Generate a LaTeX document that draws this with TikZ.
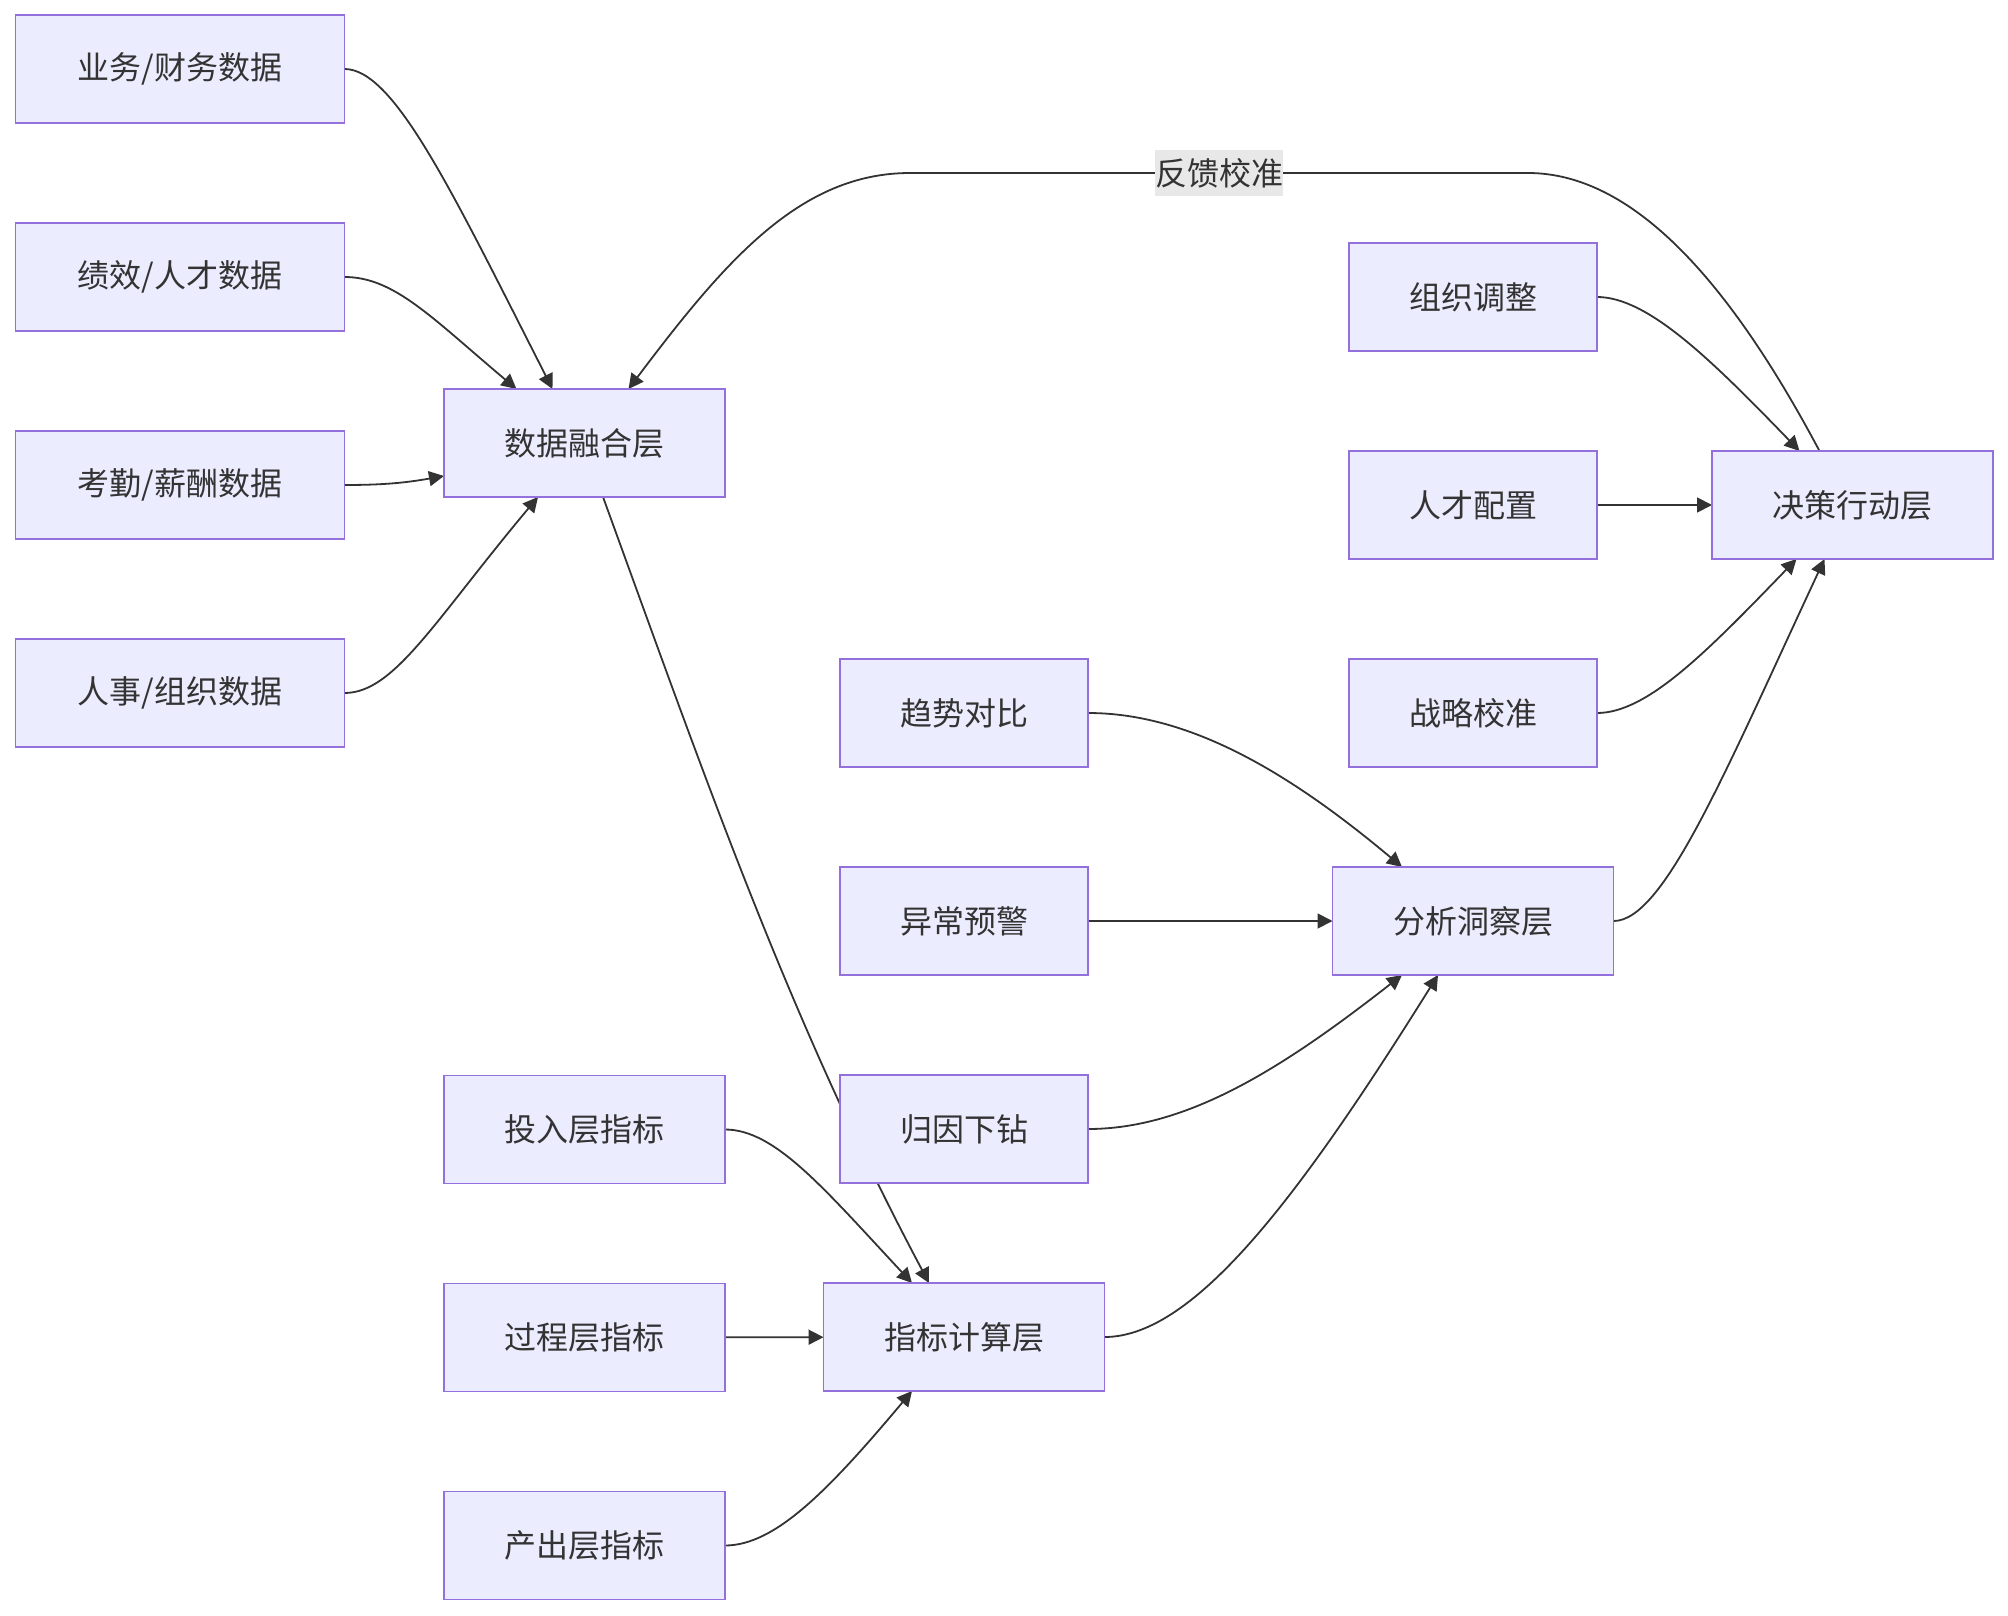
\documentclass[tikz,border=0pt]{standalone}
\usepackage{fontspec}
\setmainfont{Noto Sans CJK SC}
\usetikzlibrary{arrows.meta,positioning,backgrounds}
\definecolor{boxfill}{HTML}{ECECFF}
\definecolor{boxline}{HTML}{9370DB}
\definecolor{ink}{HTML}{333333}
\definecolor{lblfill}{HTML}{E8E8E8}

\begin{document}
\begin{tikzpicture}[
  x=1pt, y=1pt,
  node distance=50pt and 50pt,
  every node/.style={font=\fontsize{16pt}{19pt}\selectfont, text=ink},
  dat/.style={draw=boxline, fill=boxfill, line width=0.9pt, minimum width=164.5pt,
              minimum height=54pt, inner sep=0pt, outer sep=0pt},
  lyr/.style={draw=boxline, fill=boxfill, line width=0.9pt, minimum width=140.5pt,
              minimum height=54pt, inner sep=0pt, outer sep=0pt},
  itm/.style={draw=boxline, fill=boxfill, line width=0.9pt, minimum width=124pt,
              minimum height=54pt, inner sep=0pt, outer sep=0pt},
  lbl/.style={fill=lblfill, inner sep=0pt, minimum height=22.5pt},
  arr/.style={-{Triangle[length=7.5pt,width=7.5pt]}, draw=ink, line width=0.9pt}
]
\useasboundingbox (0,0) rectangle (1004,-808);

\node[dat] (biz) at (90,-34.5) {业务/财务数据};
\node[dat, below=of biz] (perf) {绩效/人才数据};
\node[dat, below=of perf] (att) {考勤/薪酬数据};
\node[dat, below=of att] (hr) {人事/组织数据};

\node[lyr] (fuse) at (292.25,-221.5) {数据融合层};
\node[lyr] (inp) at (292.25,-564.75) {投入层指标};
\node[lyr, below=of inp] (proc) {过程层指标};
\node[lyr, below=of proc] (outp) {产出层指标};

\node[itm] (trend) at (482,-356.5) {趋势对比};
\node[itm, below=of trend] (alert) {异常预警};
\node[itm, below=of alert] (drill) {归因下钻};
\node[lyr, below=of drill] (calc) {指标计算层};

\node[itm] (org) at (736.5,-148.5) {组织调整};
\node[itm, below=of org] (talent) {人才配置};
\node[itm, below=of talent] (strat) {战略校准};
\node[lyr, below=of strat] (insight) {分析洞察层};

\node[lyr] (act) at (926.25,-252.5) {决策行动层};

\coordinate (fbR) at (764,-86.5);
\coordinate (fbL) at (455,-86.5);

\begin{scope}[on background layer]
\draw[arr] (biz.east) to[out=0, in=117, out distance=25pt, in distance=110pt] ([xshift=-16pt]fuse.north);
\draw[arr] (perf.east) to[out=0, in=140, out distance=25pt, in distance=55pt] ([xshift=-34pt]fuse.north);
\draw[arr] (att.east) to[out=0, in=190] ([yshift=-16.5pt]fuse.west);
\draw[arr] (hr.east) to[out=0, in=230, out distance=25pt, in distance=80pt] ([xshift=-23.25pt]fuse.south);

\draw[arr] ([xshift=-16.5pt]act.north) to[out=118, in=0, out distance=90pt, in distance=55pt] (fbR)
  -- node[lbl] {反馈校准} (fbL) to[out=180, in=53, out distance=55pt, in distance=80pt] ([xshift=22pt]fuse.north);

\draw[arr] ([xshift=9.25pt]fuse.south) to[out=-70, in=118, distance=150pt] ([xshift=-17.5pt]calc.north);
\draw[arr] (inp.east) to[out=0, in=133, out distance=25pt, in distance=65pt] ([xshift=-26pt]calc.north);
\draw[arr] (proc) -- (calc);
\draw[arr] (outp.east) to[out=0, in=230, out distance=25pt, in distance=65pt] ([xshift=-26pt]calc.south);

\draw[arr] (calc.east) to[out=0, in=238, out distance=45pt, in distance=130pt] ([xshift=-17.5pt]insight.south);
\draw[arr] (trend.east) to[out=0, in=140, out distance=50pt, in distance=75pt] ([xshift=-35.5pt]insight.north);
\draw[arr] (alert) -- (insight);
\draw[arr] (drill.east) to[out=0, in=218, out distance=50pt, in distance=75pt] ([xshift=-35.5pt]insight.south);

\draw[arr] (insight.east) to[out=0, in=245, out distance=25pt, in distance=120pt] ([xshift=-14pt]act.south);
\draw[arr] (org.east) to[out=0, in=134, out distance=25pt, in distance=65pt] ([xshift=-26.5pt]act.north);
\draw[arr] (talent) -- (act);
\draw[arr] (strat.east) to[out=0, in=226, out distance=25pt, in distance=65pt] ([xshift=-28pt]act.south);
\end{scope}
\end{tikzpicture}
\end{document}
